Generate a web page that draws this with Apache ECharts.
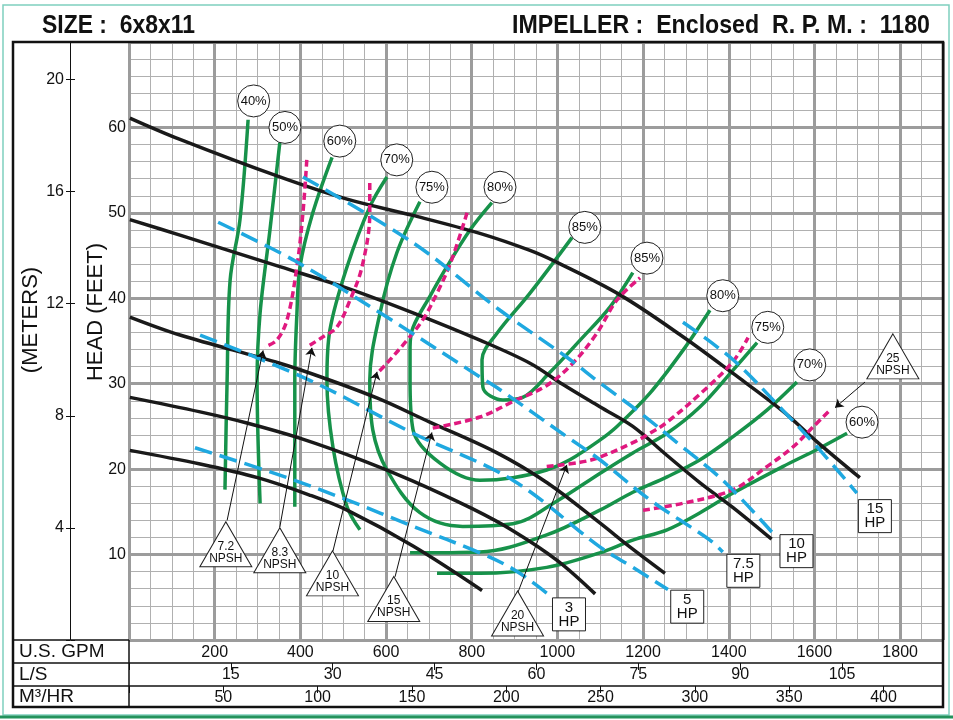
<!DOCTYPE html>
<html>
<head>
<meta charset="utf-8">
<script src="https://cdn.jsdelivr.net/npm/echarts@6/dist/echarts.min.js"></script>
<style>html,body{margin:0;padding:0;background:#fff}#c{width:953px;height:720px}</style>
</head>
<body>
<div id="c"></div>
<script>
// ---------- DATA (GPM, feet) ----------
const gpmTicks = [200,400,600,800,1000,1200,1400,1600,1800];
const lsTicks = [15,30,45,60,75,90,105];
const m3Ticks = [50,100,150,200,250,300,350,400];
const feetTicks = [10,20,30,40,50,60];
const meterTicks = [4,8,12,16,20];

const impellerNames = ['11"','10"','9"','8"','7.25"'];
const imp11 = [[2,61.1],[119,58.6],[352,54.2],[509,51.6],[663,49.7],[819,47.6],[936,45.6],[999,44.2],[1146,40.4],[1293,35.5],[1410,31.2],[1526,26.8],[1606,23.2],[1706,19.0]];
const imp10 = [[2,49.2],[119,47.4],[352,43.7],[509,41.2],[663,38.3],[819,35.1],[936,32.4],[1013,29.9],[1099,27.3],[1176,25.0],[1256,21.6],[1333,18.4],[1410,15.5],[1500,11.8]];
const imp9 = [[2,37.8],[119,35.7],[352,32.4],[453,30.7],[580,28.3],[702,25.5],[859,21.9],[976,18.4],[1099,13.7],[1169,10.9],[1251,7.8]];
const imp8 = [[2,28.4],[166,26.7],[275,25.4],[400,23.6],[546,21.0],[663,18.6],[800,15.4],[896,12.8],[1000,9.3],[1088,5.4]];
const imp725 = [[2,22.2],[166,20.6],[300,19.0],[420,17.0],[509,15.2],[663,11.0],[824,5.8]];

const eff40 = [[278,60.9],[259,49.2],[236,42.1],[229,30.4],[224,17.6]];
const eff50 = [[352,58.2],[329,48.0],[306,38.3],[299,30.4],[306,16.0]];
const eff60L = [[474,56.5],[429,50.0],[399,43.7],[392,38.3],[387,30.4],[387,15.6]];
const eff70L = [[602,54.2],[562,50.7],[509,43.7],[469,36.3],[462,30.4],[476,22.6],[509,15.6],[539,12.9]];
const eff75 = [[679,51.3],[625,45.3],[586,38.3],[562,30.4],[569,24.6],[602,19.9],[679,14.9],[779,13.3],[896,13.6],[1000,16.3],[1099,19.5],[1176,21.9],[1256,24.2],[1333,27.3],[1410,31.6],[1466,34.8]];
const eff80 = [[847,51.2],[796,48.0],[742,43.7],[702,40.2],[663,36.6],[656,34.3],[656,30.4],[663,24.6],[726,20.7],[819,18.7],[896,19.0],[975,19.9],[1029,21.1],[1099,23.4],[1139,25.0],[1216,28.9],[1293,33.9],[1356,38.6]];
const eff85 = [[1034,47.1],[936,40.6],[859,35.9],[824,32.8],[826,29.6],[873,28.1],[919,28.4],[982,31.3],[1053,35.1],[1123,39.0],[1176,43.0]];
const eff70R = [[656,10.2],[819,10.3],[975,12.3],[1099,15.2],[1176,17.3],[1256,19.1],[1333,21.1],[1410,23.8],[1489,26.9],[1559,30.2]];
const eff60R = [[719,7.8],[819,7.8],[975,8.5],[1099,10.2],[1176,11.7],[1256,12.9],[1333,14.9],[1410,17.2],[1526,20.3],[1606,22.3],[1676,24.2]];
const effLabels = ['40%','50%','60%','70%','75%','80%','85%','85%','80%','75%','70%','60%'];
const effLabelPos = [[291,63.1],[364,60.0],[492,58.4],[625,56.2],[707,53.0],[866,53.0],[1064,48.3],[1209,44.7],[1386,40.3],[1491,36.6],[1589,32.2],[1711,25.5]];

const npsh1 = [[415,56.2],[406,50.0],[392,43.7],[369,37.5],[345,35.1],[317,34.3]];
const npsh2 = [[562,53.5],[562,50.0],[544,43.7],[516,39.8],[485,36.6],[453,35.5],[422,34.5]];
const npsh3 = [[789,50.0],[751,44.2],[719,40.6],[686,37.5],[649,35.1],[602,32.4],[581,31.3]];
const npsh4 = [[709,24.8],[819,26.1],[896,27.9],[975,29.8],[1036,32.4],[1092,35.9],[1139,39.8],[1193,42.4]];
const npsh5 = [[975,20.3],[1053,20.8],[1099,21.4],[1176,23.1],[1216,24.2],[1256,25.5],[1333,28.8],[1410,32.6],[1445,35.4]];
const npsh6 = [[1200,15.2],[1293,16.0],[1410,17.6],[1489,20.3],[1550,22.6],[1596,24.9],[1636,26.9]];
const npshLabels = ['7.2','8.3','10','15','20','25'];
const npshLabelPos = [[226,11.2],[352,10.5],[475,7.8],[618,4.8],[907,3.1],[1783,33.2]];
const npshArrows = [[[229,14.0],[313,33.9]],[[352,13.2],[427,34.2]],[[476,10.4],[579,31.4]],[[621,7.4],[707,24.3]],[[908,5.6],[1022,20.5]],[[1718,30.2],[1648,27.2]]];

const hp3 = [[154,22.5],[352,19.3],[509,16.4],[663,13.3],[819,10.2],[900,8.2],[975,5.5]];
const hp5 = [[166,35.7],[422,30.4],[663,24.2],[896,18.7],[1099,10.9],[1176,8.5],[1258,5.9]];
const hp75 = [[208,48.9],[383,44.5],[586,38.3],[819,30.8],[866,29.3],[1022,23.8],[1099,21.1],[1216,16.4],[1356,11.7],[1386,10.3]];
const hp10 = [[406,54.2],[663,46.5],[866,38.6],[1022,33.1],[1099,30.1],[1193,26.6],[1279,23.1],[1386,18.7],[1503,12.5]];
const hp15 = [[1293,37.2],[1410,32.8],[1526,26.9],[1606,22.6],[1699,17.2]];
const hpLabels = ['3','5','7.5','10','15'];
const hpLabelPos = [[1027,3.0],[1303,3.9],[1434,8.1],[1558,10.4],[1741,14.5]];
const impLabelPos = [[14,62.4],[14,50.4],[14,39.2],[14,29.8],[14,24.0]];

// ---------- CHART ----------
const GPM_MAX = 1900, FT_MAX = 70;
const LS_MAX = GPM_MAX * 0.0630902;
const M3_MAX = GPM_MAX * 0.2271247;
const M_MAX = FT_MAX * 0.3048;

const GREEN = '#17924a', BLACK = '#1a1a1a', MAG = '#e0197f', BLUE = '#1fa8e0';
const FONT = "'Liberation Sans', Arial, sans-serif";
const TITLE_FONT = "bold 25px 'Liberation Sans', Arial, sans-serif";

function fitScale(text, font, target) {
  const ctx = document.createElement('canvas').getContext('2d');
  ctx.font = font;
  return target / ctx.measureText(text).width;
}
const titleL = 'SIZE :  6x8x11';
const titleR = 'IMPELLER :  Enclosed  R. P. M. :  1180';
const sL = fitScale(titleL, TITLE_FONT, 153);
const sR = fitScale(titleR, TITLE_FONT, 418);

function line(data, color, width, type, z) {
  return {type:'line', xAxisIndex:1, yAxisIndex:1, data, smooth:0.35, symbol:'none', z,
    lineStyle:{color, width, type}, silent:true};
}
const series = [];
[eff40,eff50,eff60L,eff70L,eff75,eff80,eff85,eff70R,eff60R].forEach(d=>series.push(line(d,GREEN,3.5,'solid',2)));
[imp11,imp10,imp9,imp8,imp725].forEach(d=>series.push(line(d,BLACK,3.5,'solid',3)));
[npsh1,npsh2,npsh3,npsh4,npsh5,npsh6].forEach(d=>series.push(line(d,MAG,3.5,[7,4],4)));
[hp3,hp5,hp75,hp10,hp15].forEach(d=>series.push(line(d,BLUE,3.5,[18,8],5)));

series.push({type:'lines', coordinateSystem:'cartesian2d', xAxisIndex:1, yAxisIndex:1, z:8,
  symbol:['none','arrow'], symbolSize:8, lineStyle:{color:'#111', width:1, opacity:1},
  data: npshArrows.map(c=>({coords:c}))});
series.push({type:'scatter', xAxisIndex:1, yAxisIndex:1, z:10, symbol:'circle', symbolSize:32,
  itemStyle:{color:'#fff', borderColor:'#222', borderWidth:1, opacity:1},
  label:{show:true, position:'inside', formatter:'{b}', color:'#111', fontSize:13, fontFamily:FONT},
  data: effLabels.map((n,i)=>({name:n, value:effLabelPos[i]}))});
series.push({type:'scatter', xAxisIndex:1, yAxisIndex:1, z:10, symbol:'triangle', symbolSize:[52,45],
  itemStyle:{color:'#fff', borderColor:'#222', borderWidth:1, opacity:1},
  label:{show:true, position:'inside', offset:[0,8], formatter:'{b}\nNPSH', color:'#111', fontSize:12, lineHeight:12, fontFamily:FONT},
  data: npshLabels.map((n,i)=>({name:n, value:npshLabelPos[i]}))});
series.push({type:'scatter', xAxisIndex:1, yAxisIndex:1, z:10, symbol:'rect', symbolSize:[33,33],
  itemStyle:{color:'#fff', borderColor:'#222', borderWidth:1, opacity:1},
  label:{show:true, position:'inside', formatter:'{b}\nHP', color:'#111', fontSize:15, lineHeight:14, fontFamily:FONT},
  data: hpLabels.map((n,i)=>({name:n, value:hpLabelPos[i]}))});
series.push({type:'scatter', xAxisIndex:1, yAxisIndex:1, z:9, symbolSize:1,
  itemStyle:{opacity:0},
  label:{show:true, position:'right', distance:0, formatter:'{b}', color:'#111', fontSize:14, fontFamily:FONT,
    backgroundColor:'#fff', padding:[0,2,0,2]},
  data: impellerNames.map((n,i)=>({name:n, value:impLabelPos[i]}))});

const hidden = {show:false};
const G = {outerBoundsMode:'none', containLabel:false};
const option = {
  animation:false,
  backgroundColor:'#fff',
  grid:[
    Object.assign({left:129, top:42, width:814, height:598}, G),
    Object.assign({left:70, top:42, width:1, height:598}, G),
    Object.assign({left:129, top:662, width:814, height:1}, G),
    Object.assign({left:129, top:685, width:814, height:1}, G)
  ],
  xAxis:[
    {gridIndex:0, type:'value', position:'bottom', offset:0, min:0, max:GPM_MAX, interval:50, axisLine:hidden, axisTick:hidden, axisLabel:hidden,
      splitLine:{show:true, lineStyle:{color:'#b0b0b0', width:1}}, z:0},
    {gridIndex:0, type:'value', position:'bottom', offset:0, min:0, max:GPM_MAX, interval:200, axisLine:hidden, axisTick:hidden,
      axisLabel:{show:true, margin:5, fontSize:16, color:'#111', fontFamily:FONT,
        formatter:v=>gpmTicks.includes(v)?String(v):''},
      splitLine:{show:true, lineStyle:{color:'#9c9c9c', width:3}}, z:1},
    {gridIndex:1, type:'value', show:false, min:0, max:1},
    {gridIndex:2, type:'value', min:0, max:LS_MAX, interval:15, position:'bottom', axisLine:hidden,
      axisTick:{show:true, length:7, lineStyle:{color:'#111', width:1}},
      axisLabel:{show:true, margin:4, fontSize:16, color:'#111', fontFamily:FONT,
        formatter:v=>lsTicks.includes(v)?String(v):''}, splitLine:hidden},
    {gridIndex:3, type:'value', min:0, max:M3_MAX, interval:50, position:'bottom', axisLine:hidden,
      axisTick:{show:true, length:7, lineStyle:{color:'#111', width:1}},
      axisLabel:{show:true, margin:4, fontSize:16, color:'#111', fontFamily:FONT,
        formatter:v=>m3Ticks.includes(v)?String(v):''}, splitLine:hidden}
  ],
  yAxis:[
    {gridIndex:0, type:'value', position:'left', offset:0, min:0, max:FT_MAX, interval:2, axisLine:hidden, axisTick:hidden, axisLabel:hidden,
      splitLine:{show:true, lineStyle:{color:'#b0b0b0', width:1}}, z:0},
    {gridIndex:0, type:'value', position:'left', offset:0, min:0, max:FT_MAX, interval:10, axisLine:hidden, axisTick:hidden,
      axisLabel:{show:true, margin:3, fontSize:16, color:'#111', fontFamily:FONT,
        formatter:v=>feetTicks.includes(v)?String(v):''},
      splitLine:{show:true, lineStyle:{color:'#9c9c9c', width:3}}, z:1},
    {gridIndex:1, type:'value', min:0, max:M_MAX, interval:4, position:'left', offset:0,
      axisLine:{show:true, lineStyle:{color:'#111', width:1}},
      axisTick:{show:true, length:4, lineStyle:{color:'#111'}},
      axisLabel:{show:true, margin:6, fontSize:16, color:'#111', fontFamily:FONT,
        formatter:v=>meterTicks.includes(v)?String(v):''}, splitLine:hidden},
    {gridIndex:1, type:'value', min:0, max:M_MAX, interval:4, position:'right', offset:0,
      axisLine:hidden, axisTick:{show:true, inside:false, length:4, lineStyle:{color:'#111'}},
      axisLabel:hidden, splitLine:hidden},
    {gridIndex:2, type:'value', show:false},
    {gridIndex:3, type:'value', show:false}
  ],
  graphic:[
    {type:'rect', z:100, shape:{x:3,y:5,width:946,height:710}, style:{fill:'none', stroke:'#7fd0bf', lineWidth:1.5}},
    {type:'line', z:100, shape:{x1:0,y1:717,x2:953,y2:717}, style:{stroke:'#23925c', lineWidth:3}},
    {type:'rect', z:100, shape:{x:13,y:42,width:930,height:665}, style:{fill:'none', stroke:'#111', lineWidth:2.5}},
    {type:'line', z:100, shape:{x1:129,y1:640,x2:129,y2:707}, style:{stroke:'#111', lineWidth:1.5}},
    {type:'line', z:100, shape:{x1:13,y1:640,x2:129,y2:640}, style:{stroke:'#111', lineWidth:1.5}},
    {type:'line', z:100, shape:{x1:13,y1:663,x2:943,y2:663}, style:{stroke:'#111', lineWidth:1.5}},
    {type:'line', z:100, shape:{x1:13,y1:686,x2:943,y2:686}, style:{stroke:'#111', lineWidth:1.5}},
    {type:'text', z:100, x:42, y:26, scaleX:sL, style:{text:titleL, fill:'#111', font:TITLE_FONT, textVerticalAlign:'middle', textAlign:'left'}},
    {type:'text', z:100, x:930, y:26, scaleX:sR, style:{text:titleR, fill:'#111', font:TITLE_FONT, textVerticalAlign:'middle', textAlign:'right'}},
    {type:'text', z:100, x:19, y:652, style:{text:'U.S. GPM', fill:'#111', font:"19px "+FONT, textVerticalAlign:'middle'}},
    {type:'text', z:100, x:19, y:675, style:{text:'L/S', fill:'#111', font:"19px "+FONT, textVerticalAlign:'middle'}},
    {type:'text', z:100, x:19, y:697, style:{text:'M³/HR', fill:'#111', font:"19px "+FONT, textVerticalAlign:'middle'}},
    {type:'text', z:100, x:31, y:320, rotation:Math.PI/2, style:{text:'(METERS)', fill:'#111', font:"22px "+FONT, textAlign:'center', textVerticalAlign:'middle'}},
    {type:'text', z:100, x:96, y:312, rotation:Math.PI/2, style:{text:'HEAD (FEET)', fill:'#111', font:"22px "+FONT, textAlign:'center', textVerticalAlign:'middle'}}
  ],
  series
};
const chart = echarts.init(document.getElementById('c'), null, {renderer:'canvas'});
chart.setOption(option);
</script>
</body>
</html>
